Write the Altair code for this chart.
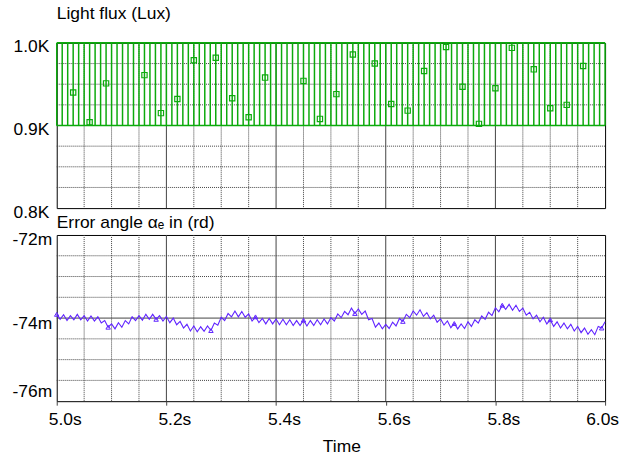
import altair as alt
import pandas as pd

FONT = "Liberation Sans"
FS = 17.5

# ---------------- Light flux: square wave between 0.9 kLux and 1.0 kLux ----
t_start, t_end = 5.0, 6.0
flux_low = 900
flux_high = 1000
edge_spacing = 0.01  # one switching edge every half period (50 Hz)
edge_times = [round(t_start + i * edge_spacing, 2) for i in range(101)]

# simulator markers sitting on the switching edges
flux_marker_t = [5.03, 5.06, 5.09, 5.16, 5.19, 5.22, 5.25, 5.29, 5.32, 5.35,
                 5.38, 5.45, 5.48, 5.51, 5.54, 5.58, 5.61, 5.64, 5.67, 5.71,
                 5.74, 5.77, 5.80, 5.83, 5.87, 5.90, 5.93, 5.96]
flux_marker_v = [940, 904, 951, 961, 915, 932, 979, 982, 933, 910,
                 958, 954, 908, 938, 986, 975, 926, 918, 966, 995,
                 947, 902, 945, 994, 968, 921, 925, 972]

# ---------------- Error angle (mrd), one sample every 6.25 ms ---------------
err_dt = 0.00625
err_values = [
    -73.91, -74.03, -73.92, -74.06, -73.94, -74.04, -73.91, -74.04, -73.94, -74.07,
    -73.95, -74.07, -73.97, -74.12, -74.06, -74.22, -74.14, -74.26, -74.11, -74.22,
    -74.06, -74.14, -73.97, -74.06, -73.94, -74.05, -73.91, -74.03, -73.91, -74.03,
    -73.94, -74.07, -73.96, -74.11, -74.00, -74.16, -74.08, -74.24, -74.15, -74.31,
    -74.19, -74.33, -74.21, -74.32, -74.19, -74.30, -74.12, -74.17, -73.98, -74.06,
    -73.89, -73.97, -73.83, -73.97, -73.84, -73.98, -73.90, -74.07, -73.97, -74.11,
    -74.01, -74.14, -74.01, -74.14, -74.02, -74.16, -74.03, -74.16, -74.04, -74.18,
    -74.06, -74.18, -74.05, -74.19, -74.06, -74.18, -74.04, -74.16, -74.02, -74.14,
    -73.99, -74.07, -73.90, -73.99, -73.84, -73.92, -73.76, -73.89, -73.78, -73.91,
    -73.83, -74.04, -74.01, -74.22, -74.12, -74.26, -74.15, -74.25, -74.10, -74.19,
    -74.01, -74.08, -73.91, -73.99, -73.83, -73.93, -73.80, -73.96, -73.87, -74.02,
    -73.93, -74.10, -74.02, -74.17, -74.07, -74.23, -74.13, -74.26, -74.14, -74.25,
    -74.09, -74.20, -74.04, -74.12, -73.95, -74.03, -73.86, -73.94, -73.75, -73.85,
    -73.69, -73.79, -73.67, -73.81, -73.69, -73.84, -73.76, -73.93, -73.86, -74.02,
    -73.93, -74.09, -73.98, -74.14, -74.04, -74.20, -74.09, -74.24, -74.12, -74.26,
    -74.15, -74.31, -74.20, -74.35, -74.24, -74.39, -74.28, -74.40, -74.20, -74.24,
    -74.09,
]
err_marker_idx = [0, 15, 29, 45, 58, 72, 87, 101, 116, 130, 144, 159]

# ---------------- grid / tick values -----------------------------------------
x_ticks = [5.0, 5.2, 5.4, 5.6, 5.8, 6.0]
x_major = [5.2, 5.4, 5.6, 5.8]
x_minor = [5.05, 5.10, 5.15, 5.25, 5.30, 5.35, 5.45, 5.50, 5.55,
           5.65, 5.70, 5.75, 5.85, 5.90, 5.95]
flux_ticks = [800, 900, 1000]
flux_minor = [825, 850, 875, 925, 950, 975]
flux_major = [900]
err_ticks = [-76, -74, -72]
err_minor = [-75.5, -75.0, -74.5, -73.5, -73.0, -72.5]
err_major = [-74]

GREEN = "#0caa0c"
BLUE = "#6024ff"
GRID = "#444444"

W, H1, H2 = 551, 166, 167
xs = alt.Scale(domain=[t_start, t_end], nice=False, zero=False)
ys_flux = alt.Scale(domain=[800, 1000], nice=False, zero=False)
ys_err = alt.Scale(domain=[-76, -72], nice=False, zero=False)

# axes shared by every layer of a panel
ax_x_top = alt.Axis(values=x_ticks, labels=False, ticks=False, domain=False,
                    grid=False, title=None)
ax_x_bottom = alt.Axis(
    values=x_ticks,
    labelExpr="format(datum.value, '.1f') + 's'",
    title="Time", titleFont=FONT, titleFontSize=FS, titleFontWeight="normal",
    titleColor="black", titleX=286, titleY=51, titleBaseline="alphabetic",
    domain=False, grid=False, ticks=True, tickSize=4, tickColor=GRID,
    labelFont=FONT, labelFontSize=FS, labelColor="black", labelPadding=5,
    labelFlush=False, labelAlign="center",
    labelOffset={"condition": {"test": "datum.value >= 6", "value": -3},
                 "value": 8})
ax_y_top = alt.Axis(
    values=flux_ticks,
    labelExpr="format(datum.value / 1000, '.1f') + 'K'",
    title=None, domain=False, ticks=False, grid=False,
    labelFont=FONT, labelFontSize=FS, labelColor="black",
    labelPadding=8, labelOffset=4, labelFlush=False)
ax_y_bottom = alt.Axis(
    values=err_ticks,
    labelExpr="datum.value + 'm'",
    title=None, domain=False, ticks=False, grid=False,
    labelFont=FONT, labelFontSize=FS, labelColor="black", labelPadding=5,
    labelFlush=False,
    labelOffset={"condition": {"test": "datum.value <= -76", "value": -10},
                 "value": 5})


def vgrid(vals, dashed, ax):
    df = pd.DataFrame({"g": vals})
    kw = {"strokeDash": [1, 1]} if dashed else {}
    return alt.Chart(df).mark_rule(color=GRID, strokeWidth=1, **kw).encode(
        x=alt.X("g:Q", scale=xs, axis=ax))


def hgrid(vals, scale, dashed, ax):
    df = pd.DataFrame({"g": vals})
    kw = {"strokeDash": [1, 1]} if dashed else {}
    return alt.Chart(df).mark_rule(color=GRID, strokeWidth=1, **kw).encode(
        y=alt.Y("g:Q", scale=scale, axis=ax))


# ---------------- top panel: light flux --------------------------------------
edges_df = pd.DataFrame({"t": edge_times, "lo": flux_low, "hi": flux_high})
levels_df = pd.DataFrame({"t0": [t_start, t_start], "t1": [t_end, t_end],
                          "v": [flux_low, flux_high]})
fmark_df = pd.DataFrame({"t": flux_marker_t, "v": flux_marker_v})

edges = alt.Chart(edges_df).mark_rule(color=GREEN, strokeWidth=1.5).encode(
    x=alt.X("t:Q", scale=xs, axis=ax_x_top),
    y=alt.Y("lo:Q", scale=ys_flux, axis=ax_y_top),
    y2="hi:Q",
)
levels = alt.Chart(levels_df).mark_rule(color=GREEN, strokeWidth=1.6).encode(
    x=alt.X("t0:Q", scale=xs, axis=ax_x_top),
    x2="t1:Q",
    y=alt.Y("v:Q", scale=ys_flux, axis=ax_y_top),
)
flux_marks = alt.Chart(fmark_df).mark_point(
    shape="square", filled=False, size=28, color=GREEN, strokeWidth=1.2, opacity=1
).encode(
    x=alt.X("t:Q", scale=xs, axis=ax_x_top),
    y=alt.Y("v:Q", scale=ys_flux, axis=ax_y_top),
)

top = alt.layer(
    vgrid(x_minor, True, ax_x_top), hgrid(flux_minor, ys_flux, True, ax_y_top),
    vgrid(x_major, False, ax_x_top), hgrid(flux_major, ys_flux, False, ax_y_top),
    edges, levels, flux_marks,
).properties(
    width=W, height=H1,
    title=alt.TitleParams("Light flux (Lux)", anchor="start", frame="group",
                          baseline="alphabetic", offset=0, dy=-2, font=FONT,
                          fontSize=FS, fontWeight="normal", color="black"),
)

# ---------------- bottom panel: error angle ----------------------------------
err_df = pd.DataFrame({
    "t": [t_start + k * err_dt for k in range(len(err_values))],
    "a": err_values,
})
emark_df = err_df.iloc[err_marker_idx]

err_line = alt.Chart(err_df).mark_line(color=BLUE, strokeWidth=1.1).encode(
    x=alt.X("t:Q", scale=xs, axis=ax_x_bottom),
    y=alt.Y("a:Q", scale=ys_err, axis=ax_y_bottom),
)
err_marks = alt.Chart(emark_df).mark_point(
    shape="triangle-up", filled=False, size=20, color=BLUE, strokeWidth=1, opacity=1
).encode(
    x=alt.X("t:Q", scale=xs, axis=ax_x_bottom),
    y=alt.Y("a:Q", scale=ys_err, axis=ax_y_bottom),
)

bottom = alt.layer(
    vgrid(x_minor, True, ax_x_bottom), hgrid(err_minor, ys_err, True, ax_y_bottom),
    vgrid(x_major, False, ax_x_bottom), hgrid(err_major, ys_err, False, ax_y_bottom),
    err_line, err_marks,
).properties(
    width=W, height=H2,
    title=alt.TitleParams("Error angle \u03b1\u2091 in (rd)", anchor="start",
                          frame="group", baseline="alphabetic", offset=0,
                          dy=14.5, font=FONT, fontSize=FS, fontWeight="normal",
                          color="black"),
)

chart = alt.vconcat(top, bottom, spacing=27, bounds="flush").properties(
    padding={"left": 11, "top": 3, "right": 2, "bottom": 5},
    background="white",
).configure_view(stroke="black", strokeWidth=1)

chart.save("out.html", embed_options={"renderer": "svg", "actions": False})
